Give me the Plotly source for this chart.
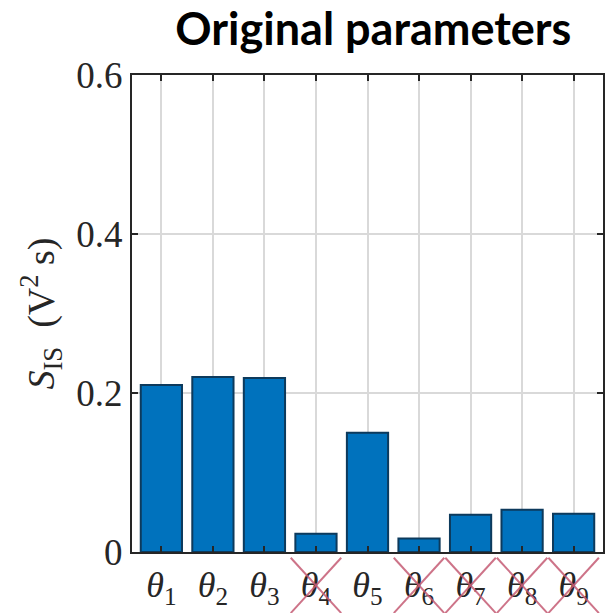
import plotly.graph_objects as go

# Data
param_index = [1, 2, 3, 4, 5, 6, 7, 8, 9]
tick_labels = [f"<i>θ</i><sub>{i}</sub>" for i in param_index]
s_is_values = [0.210, 0.220, 0.219, 0.023, 0.150, 0.017, 0.047, 0.053, 0.048]
removed_params = [4, 6, 7, 8, 9]
y_ticks = [0, 0.2, 0.4, 0.6]
y_tick_labels = ["0", "0.2", "0.4", "0.6"]

AX = "#262626"
SERIF = "Liberation Serif, Times New Roman, serif"

fig = go.Figure()
fig.add_trace(go.Bar(
    x=param_index, y=s_is_values, width=0.8,
    marker=dict(color="#0072BD", line=dict(color="#0d3a5c", width=2)),
    showlegend=False,
))

# Red crosses marking removed parameters
cross_top, cross_bot, half = -0.012, -0.128, 0.49
for i in removed_params:
    for (y0, y1) in [(cross_top, cross_bot), (cross_bot, cross_top)]:
        fig.add_shape(type="line", xref="x", yref="paper",
                      x0=i - half, x1=i + half, y0=y0, y1=y1,
                      line=dict(color="rgba(196,90,115,0.85)", width=2),
                      layer="above")

fig.update_layout(
    width=608, height=613,
    margin=dict(l=132, r=5, t=75, b=61, autoexpand=False),
    plot_bgcolor="white", paper_bgcolor="white",
    title=dict(text="<b>Original parameters</b>", xref="container", x=0.614,
               xanchor="center", yref="container", y=0.952, yanchor="middle",
               font=dict(family="Lato, Open Sans, sans-serif", size=45, color="black")),
    bargap=0.2,
)
fig.update_xaxes(
    range=[0.43, 9.57], tickmode="array", tickvals=param_index, ticktext=tick_labels,
    ticks="inside", ticklen=6, tickwidth=2, tickcolor=AX,
    showline=True, linecolor=AX, linewidth=2, mirror="ticks",
    showgrid=True, gridcolor="#d9d9d9", gridwidth=2,
    tickfont=dict(family=SERIF, size=36, color=AX),
    zeroline=False, automargin=False,
)
fig.update_yaxes(
    range=[0, 0.6], tickmode="array", tickvals=y_ticks, ticktext=y_tick_labels,
    ticks="inside", ticklen=6, tickwidth=2, tickcolor=AX,
    showline=True, linecolor=AX, linewidth=2, mirror="ticks",
    showgrid=True, gridcolor="#d9d9d9", gridwidth=2,
    tickfont=dict(family=SERIF, size=37, color=AX),
    zeroline=False, automargin=False,
    title=dict(text="<i>S</i><sub>IS</sub>  (V<sup>2</sup> s)",
               font=dict(family=SERIF, size=38, color=AX), standoff=10),
)

fig.write_html("out.html")
